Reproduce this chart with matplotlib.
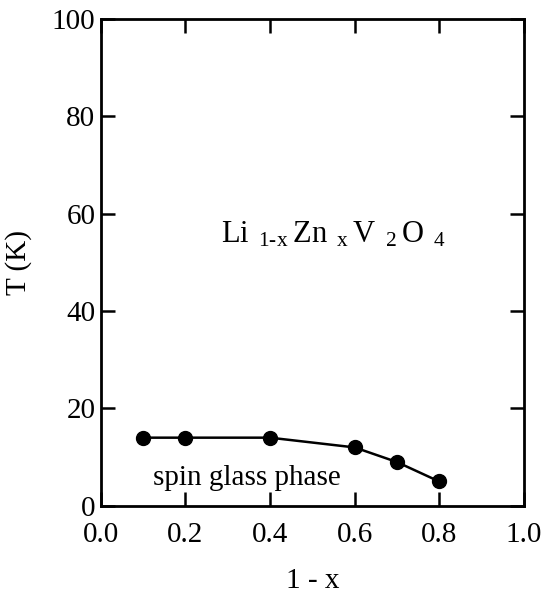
import numpy as np
import matplotlib
matplotlib.use('Agg')
import matplotlib.pyplot as plt

plt.rcParams['font.family'] = ['Liberation Serif', 'DejaVu Serif']
plt.rcParams['mathtext.fontset'] = 'custom'
plt.rcParams['mathtext.rm'] = 'Liberation Serif'

# datos
conc = [0.1, 0.2, 0.4, 0.6, 0.7, 0.8]
temp = [14, 14, 14, 12, 9, 5]
xticks = [0.0, 0.2, 0.4, 0.6, 0.8, 1.0]
yticks = [0, 20, 40, 60, 80, 100]

fig = plt.figure(figsize=(5.45, 5.93), dpi=100)
ax = fig.add_axes([0.185, 0.147, 0.776, 0.821])

ax.plot(conc, temp, color='black', lw=1.8, marker='o', ms=10)

ax.set_xlim(0, 1)
ax.set_ylim(0, 100)
ax.set_xticks(xticks)
ax.set_yticks(yticks)
ax.set_xticklabels(['%.1f' % t for t in xticks])
ax.tick_params(direction='in', length=10, width=1.8, labelsize=21,
               top=True, right=True)
ax.tick_params(axis='x', pad=12)
ax.tick_params(axis='y', pad=4)
for s in ax.spines.values():
    s.set_linewidth(2)

ax.set_xlabel('1 - x', fontsize=21, labelpad=14)
ax.set_ylabel('T (K)', fontsize=21, labelpad=14)

ax.text(0.285, 54, r'$\mathregular{Li\ _{1\text{-}x}\,Zn\ _{x}\,V\ _{2}\,O\ _{4}}$',
        fontsize=22, va='baseline')
ax.text(0.123, 4.3, 'spin glass phase', fontsize=21, va='baseline')

fig.savefig('out.png', dpi=100)
